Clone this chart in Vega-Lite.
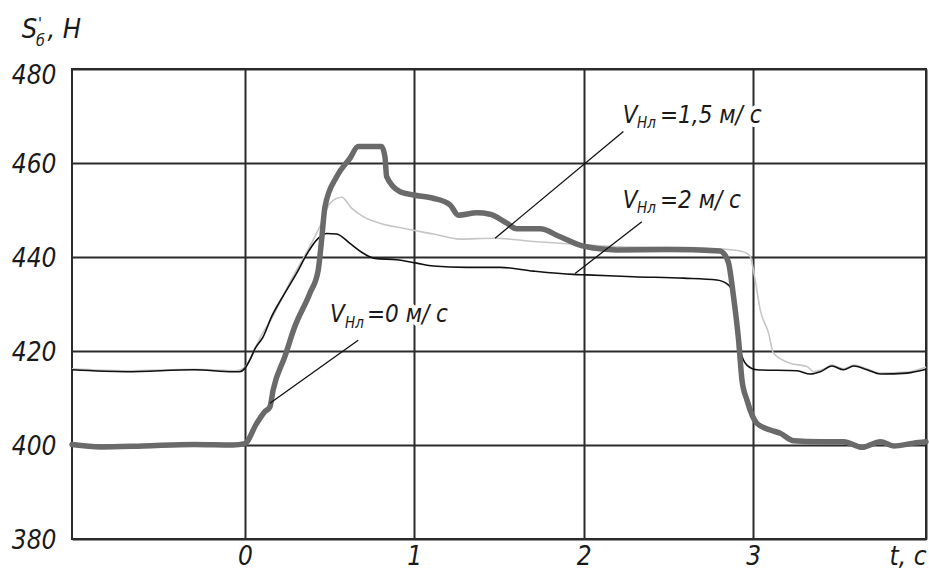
{
  "$schema": "https://vega.github.io/schema/vega-lite/v6.json",
  "width": 854,
  "height": 470,
  "autosize": {"type": "none"},
  "padding": {"left": 72, "top": 69, "right": 3, "bottom": 32},
  "background": "white",
  "config": {
    "view": {"stroke": "#2b2b2b", "strokeWidth": 2},
    "font": "DejaVu Sans Condensed, DejaVu Sans"
  },
  "datasets": {
    "s0": [
      {"t": -1.02, "v": 400.1}, {"t": -0.85, "v": 399.6}, {"t": -0.6, "v": 399.8}, {"t": -0.3, "v": 400.1},
      {"t": -0.07, "v": 400.0}, {"t": 0.0, "v": 400.3}, {"t": 0.07, "v": 404.6}, {"t": 0.118, "v": 407.1},
      {"t": 0.148, "v": 408.1}, {"t": 0.167, "v": 411.7}, {"t": 0.236, "v": 418.8}, {"t": 0.295, "v": 425.2},
      {"t": 0.384, "v": 432.3}, {"t": 0.433, "v": 437.2}, {"t": 0.453, "v": 443.6}, {"t": 0.473, "v": 450.7},
      {"t": 0.542, "v": 457.1}, {"t": 0.62, "v": 461.0}, {"t": 0.669, "v": 463.5}, {"t": 0.807, "v": 463.5},
      {"t": 0.827, "v": 461.3}, {"t": 0.837, "v": 457.1}, {"t": 0.916, "v": 453.9}, {"t": 0.994, "v": 453.2},
      {"t": 1.112, "v": 452.5}, {"t": 1.211, "v": 451.1}, {"t": 1.26, "v": 448.9}, {"t": 1.369, "v": 449.4},
      {"t": 1.447, "v": 449.1}, {"t": 1.546, "v": 447.2}, {"t": 1.605, "v": 446.0}, {"t": 1.742, "v": 446.0},
      {"t": 1.861, "v": 444.3}, {"t": 1.998, "v": 442.3}, {"t": 2.195, "v": 441.5}, {"t": 2.49, "v": 441.6},
      {"t": 2.806, "v": 441.3}, {"t": 2.825, "v": 440.8}, {"t": 2.855, "v": 438.7}, {"t": 2.884, "v": 431.6},
      {"t": 2.914, "v": 422.3}, {"t": 2.934, "v": 413.8}, {"t": 2.963, "v": 409.6}, {"t": 3.022, "v": 404.6},
      {"t": 3.101, "v": 403.2}, {"t": 3.16, "v": 402.5}, {"t": 3.239, "v": 400.9}, {"t": 3.396, "v": 400.7},
      {"t": 3.534, "v": 400.7}, {"t": 3.643, "v": 399.5}, {"t": 3.751, "v": 400.7}, {"t": 3.829, "v": 399.8},
      {"t": 3.947, "v": 400.4}, {"t": 4.02, "v": 400.7}
    ],
    "s2": [
      {"t": -1.02, "v": 416.0}, {"t": -0.7, "v": 415.6}, {"t": -0.3, "v": 416.0}, {"t": -0.07, "v": 415.6},
      {"t": -0.03, "v": 415.6}, {"t": 0.0, "v": 416.3}, {"t": 0.03, "v": 418.1}, {"t": 0.06, "v": 420.5},
      {"t": 0.108, "v": 423.0}, {"t": 0.158, "v": 427.3}, {"t": 0.236, "v": 432.3}, {"t": 0.305, "v": 436.5},
      {"t": 0.374, "v": 441.1}, {"t": 0.423, "v": 443.6}, {"t": 0.482, "v": 445.0}, {"t": 0.542, "v": 444.9},
      {"t": 0.62, "v": 442.9}, {"t": 0.699, "v": 440.8}, {"t": 0.768, "v": 439.7}, {"t": 0.896, "v": 439.4},
      {"t": 1.014, "v": 438.7}, {"t": 1.112, "v": 438.1}, {"t": 1.309, "v": 437.8}, {"t": 1.506, "v": 437.8},
      {"t": 1.703, "v": 437.0}, {"t": 1.939, "v": 436.3}, {"t": 2.018, "v": 436.2}, {"t": 2.294, "v": 435.8},
      {"t": 2.589, "v": 435.5}, {"t": 2.786, "v": 435.1}, {"t": 2.855, "v": 434.0}, {"t": 2.875, "v": 433.0},
      {"t": 2.894, "v": 427.3}, {"t": 2.924, "v": 420.2}, {"t": 2.963, "v": 417.0}, {"t": 3.022, "v": 416.0},
      {"t": 3.259, "v": 415.8}, {"t": 3.337, "v": 415.1}, {"t": 3.396, "v": 415.6}, {"t": 3.465, "v": 416.8},
      {"t": 3.534, "v": 416.0}, {"t": 3.593, "v": 416.8}, {"t": 3.672, "v": 416.0}, {"t": 3.751, "v": 415.1},
      {"t": 3.908, "v": 415.3}, {"t": 4.02, "v": 416.1}
    ],
    "s15": [
      {"t": -1.02, "v": 416.2}, {"t": -0.7, "v": 415.8}, {"t": -0.3, "v": 416.1}, {"t": -0.05, "v": 415.8},
      {"t": 0.0, "v": 416.5}, {"t": 0.04, "v": 419.0}, {"t": 0.1, "v": 423.5}, {"t": 0.16, "v": 427.0},
      {"t": 0.24, "v": 432.8}, {"t": 0.31, "v": 437.5}, {"t": 0.38, "v": 442.0}, {"t": 0.443, "v": 446.5},
      {"t": 0.502, "v": 451.4}, {"t": 0.571, "v": 452.7}, {"t": 0.63, "v": 450.4}, {"t": 0.699, "v": 448.6},
      {"t": 0.797, "v": 447.2}, {"t": 0.935, "v": 446.1}, {"t": 1.112, "v": 444.9}, {"t": 1.27, "v": 443.8},
      {"t": 1.467, "v": 444.0}, {"t": 1.703, "v": 443.3}, {"t": 1.998, "v": 442.6}, {"t": 2.294, "v": 442.1},
      {"t": 2.589, "v": 442.0}, {"t": 2.884, "v": 441.5}, {"t": 2.963, "v": 440.8}, {"t": 2.983, "v": 440.1},
      {"t": 3.012, "v": 435.1}, {"t": 3.042, "v": 428.7}, {"t": 3.091, "v": 423.8}, {"t": 3.12, "v": 419.5},
      {"t": 3.219, "v": 417.4}, {"t": 3.318, "v": 416.7}, {"t": 3.357, "v": 415.6}, {"t": 3.42, "v": 416.2},
      {"t": 3.465, "v": 417.0}, {"t": 3.534, "v": 416.2}, {"t": 3.593, "v": 417.0}, {"t": 3.672, "v": 416.2},
      {"t": 3.751, "v": 415.3}, {"t": 3.908, "v": 415.5}, {"t": 4.02, "v": 416.6}
    ],
    "leaders": [
      {"t": 0.669, "v": 422.3, "t2": 0.148, "v2": 408.9},
      {"t": 2.234, "v": 466.7, "t2": 1.477, "v2": 444.0},
      {"t": 2.343, "v": 447.5, "t2": 1.949, "v2": 436.5}
    ],
    "labMain": [
      {"t": 0.502, "v": 426.2, "text": "V"},
      {"t": 0.721, "v": 426.2, "text": "=0 м/ с"},
      {"t": 2.23, "v": 468.5, "text": "V"},
      {"t": 2.45, "v": 468.5, "text": "=1,5 м/ с"},
      {"t": 2.23, "v": 450.4, "text": "V"},
      {"t": 2.45, "v": 450.4, "text": "=2 м/ с"}
    ],
    "labSub": [
      {"t": 0.591, "v": 424.9, "text": "Нл"},
      {"t": 2.315, "v": 467.4, "text": "Нл"},
      {"t": 2.315, "v": 449.4, "text": "Нл"}
    ],
    "titleMain": [
      {"t": -1.316, "v": 486.6, "text": "S"},
      {"t": -1.165, "v": 486.6, "text": ", H"}
    ],
    "titleSub": [
      {"t": -1.232, "v": 485.0, "text": "б"},
      {"t": -1.22, "v": 488.6, "text": "'"}
    ]
  },
  "encoding": {
    "x": {
      "field": "t",
      "type": "quantitative",
      "scale": {"domain": [-1.02, 4.02], "nice": false, "zero": false},
      "axis": {
        "title": null,
        "values": [0, 1, 2, 3, 4.02],
        "grid": true,
        "gridColor": "#2b2b2b",
        "gridWidth": 2,
        "domain": false,
        "ticks": false,
        "labelFont": "DejaVu Sans Condensed, DejaVu Sans",
        "labelFontStyle": "italic",
        "labelFontSize": 26,
        "labelColor": "#1a1a1a",
        "labelPadding": 4,
        "labelFlush": false,
        "labelOverlap": false,
        "labelExpr": "datum.value > 4 ? 't, c' : datum.label",
        "labelAlign": {"condition": {"test": "datum.value > 4", "value": "right"}, "value": "center"}
      }
    },
    "y": {
      "field": "v",
      "type": "quantitative",
      "scale": {"domain": [380, 480], "nice": false, "zero": false},
      "axis": {
        "title": null,
        "values": [380, 400, 420, 440, 460, 480],
        "grid": true,
        "gridColor": "#2b2b2b",
        "gridWidth": 2,
        "domain": false,
        "ticks": false,
        "labelFont": "DejaVu Sans Condensed, DejaVu Sans",
        "labelFontStyle": "italic",
        "labelFontSize": 26,
        "labelColor": "#1a1a1a",
        "labelPadding": 16,
        "labelOverlap": false,
        "labelOffset": {"condition": {"test": "datum.value == 480", "value": 6}, "value": 1}
      }
    }
  },
  "layer": [
    {
      "data": {"name": "s15"},
      "mark": {"type": "line", "color": "#c6c6c6", "strokeWidth": 1.6, "interpolate": "monotone"}
    },
    {
      "data": {"name": "s2"},
      "mark": {"type": "line", "color": "#111111", "strokeWidth": 1.6, "interpolate": "monotone"}
    },
    {
      "data": {"name": "s0"},
      "mark": {"type": "line", "color": "#6a6a6a", "strokeWidth": 5.5, "interpolate": "monotone", "strokeJoin": "round", "strokeCap": "round"}
    },
    {
      "data": {"name": "leaders"},
      "mark": {"type": "rule", "color": "#111111", "strokeWidth": 1.3},
      "encoding": {"x2": {"field": "t2"}, "y2": {"field": "v2"}}
    },
    {
      "data": {"name": "labMain"},
      "mark": {"type": "text", "align": "left", "baseline": "alphabetic", "font": "DejaVu Sans Condensed, DejaVu Sans", "fontStyle": "italic", "fontSize": 24, "fill": "white", "stroke": "white", "strokeWidth": 8, "strokeJoin": "round"},
      "encoding": {"text": {"field": "text"}}
    },
    {
      "data": {"name": "labMain"},
      "mark": {"type": "text", "align": "left", "baseline": "alphabetic", "font": "DejaVu Sans Condensed, DejaVu Sans", "fontStyle": "italic", "fontSize": 24, "color": "#1a1a1a"},
      "encoding": {"text": {"field": "text"}}
    },
    {
      "data": {"name": "labSub"},
      "mark": {"type": "text", "align": "left", "baseline": "alphabetic", "font": "DejaVu Sans Condensed, DejaVu Sans", "fontStyle": "italic", "fontSize": 15, "color": "#1a1a1a"},
      "encoding": {"text": {"field": "text"}}
    },
    {
      "data": {"name": "titleMain"},
      "mark": {"type": "text", "align": "left", "baseline": "alphabetic", "font": "DejaVu Sans Condensed, DejaVu Sans", "fontStyle": "italic", "fontSize": 27, "color": "#1a1a1a"},
      "encoding": {"text": {"field": "text"}}
    },
    {
      "data": {"name": "titleSub"},
      "mark": {"type": "text", "align": "left", "baseline": "alphabetic", "font": "DejaVu Sans Condensed, DejaVu Sans", "fontStyle": "italic", "fontSize": 16, "color": "#1a1a1a"},
      "encoding": {"text": {"field": "text"}}
    }
  ]
}
